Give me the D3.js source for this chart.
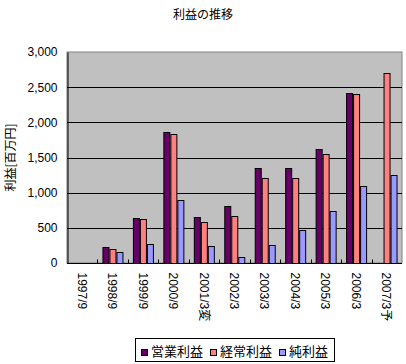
<!DOCTYPE html>
<html lang="ja">
<head>
  <meta charset="utf-8"/>
  <title>利益の推移</title>
  <script src="https://d3js.org/d3.v7.min.js"></script>
  <style>
    body { margin: 0; background: #fff; }
    text { font-family: "Liberation Sans", Arial, "Noto Sans CJK JP", sans-serif; fill: #000; }
    .jp { font-family: "Noto Sans CJK JP", sans-serif; }
  </style>
</head>
<body>
<svg id="chart" width="406" height="364"></svg>
<script>
  // data (百万円)
  const periods = ["1997/9", "1998/9", "1999/9", "2000/9", "2001/3変", "2002/3",
                   "2003/3", "2004/3", "2005/3", "2006/3", "2007/3予"];
  const seriesNames = ["営業利益", "経常利益", "純利益"];
  const operating = [0, 223, 635, 1858, 650, 806, 1346, 1346, 1621, 2417, 0];
  const ordinary  = [0, 195, 621, 1834, 579, 664, 1204, 1204, 1546, 2403, 2697];
  const net       = [0, 152, 266, 891, 237, 81, 252, 465, 735, 1095, 1247];
  const yTicks = [0, 500, 1000, 1500, 2000, 2500, 3000];
  const colors = ["#660066", "#FF8080", "#9999FF"];

  const svg = d3.select("#chart");
  const plotL = 67, plotR = 402, plotT = 52, plotB = 263;

  const x = d3.scaleBand().domain(periods).range([plotL, plotR]).paddingInner(0).paddingOuter(0);
  // excel gap width 150% -> half a bar each side
  const xs = d3.scaleBand().domain(seriesNames).range([0, x.bandwidth()]).paddingInner(0).paddingOuter(0.75);
  const y = d3.scaleLinear().domain([0, 3000]).range([plotB, plotT]);

  // title
  svg.append("text").attr("class", "jp")
    .attr("x", 203).attr("y", 19)
    .attr("text-anchor", "middle")
    .style("font-size", "12px")
    .text("利益の推移");

  // y axis label
  svg.append("text").attr("class", "jp")
    .attr("transform", "translate(15," + ((plotT + plotB) / 2) + ") rotate(-90)")
    .attr("text-anchor", "middle")
    .style("font-size", "12px")
    .text("利益[百万円]");

  // plot area
  svg.append("rect")
    .attr("x", plotL).attr("y", plotT)
    .attr("width", plotR - plotL).attr("height", plotB - plotT)
    .attr("fill", "#C0C0C0")
    .attr("stroke", "#808080");

  // gridlines
  svg.append("g").selectAll("line")
    .data(yTicks.filter(d => d > 0 && d < 3000))
    .enter().append("line")
    .attr("x1", plotL).attr("x2", plotR)
    .attr("y1", d => Math.round(y(d)) + 0.5).attr("y2", d => Math.round(y(d)) + 0.5)
    .attr("stroke", "#000");

  // bars
  const table = periods.map((p, i) => ({p: p, vals: [operating[i], ordinary[i], net[i]]}));
  const groups = svg.append("g").selectAll("g")
    .data(table)
    .enter().append("g")
    .attr("transform", d => "translate(" + x(d.p) + ",0)");

  groups.selectAll("rect")
    .data(d => d.vals.map((v, k) => ({name: seriesNames[k], v: v, k: k})).filter(e => e.v > 0))
    .enter().append("rect")
    .attr("x", d => Math.round(xs(d.name)) + 0.5)
    .attr("y", d => Math.round(y(d.v)) + 0.5)
    .attr("width", Math.round(xs.bandwidth()) - 1)
    .attr("height", d => Math.round(plotB - y(d.v)))
    .attr("fill", d => colors[d.k])
    .attr("stroke", "#000")
    .attr("stroke-width", 1);

  // y axis
  const yAxis = svg.append("g")
    .attr("transform", "translate(" + (plotL + 0.5) + ",0)")
    .call(d3.axisLeft(y).tickValues(yTicks).tickSize(0).tickPadding(10).tickFormat(d3.format(",")));
  yAxis.select(".domain").attr("stroke", "#000");
  yAxis.selectAll("text").style("font-size", "12px").style("font-family", "'Liberation Sans', Arial, sans-serif");

  // x axis
  const xAxis = svg.append("g")
    .attr("transform", "translate(0," + (plotB + 0.5) + ")");
  xAxis.append("line").attr("x1", plotL).attr("x2", plotR).attr("stroke", "#000");
  xAxis.selectAll("line.tk")
    .data(periods.slice(1))
    .enter().append("line").attr("class", "tk")
    .attr("x1", d => Math.round(x(d)) + 0.5).attr("x2", d => Math.round(x(d)) + 0.5)
    .attr("y1", -4).attr("y2", 0)
    .attr("stroke", "#000");
  xAxis.selectAll("text")
    .data(periods)
    .enter().append("text")
    .attr("transform", d => "translate(" + (x(d) + x.bandwidth() / 2 - 4.5) + ",9) rotate(90)")
    .style("font-size", "12px")
    .text(d => d);

  // legend
  const legend = svg.append("g");
  legend.append("rect")
    .attr("x", 135.5).attr("y", 338.5).attr("width", 199).attr("height", 23)
    .attr("fill", "#fff").attr("stroke", "#000");
  const legendX = [141, 210, 279];
  seriesNames.forEach((n, k) => {
    legend.append("rect")
      .attr("x", legendX[k] + 0.5).attr("y", 349.5).attr("width", 6).attr("height", 6)
      .attr("fill", colors[k]).attr("stroke", "#000");
    legend.append("text").attr("class", "jp")
      .attr("x", legendX[k] + 10).attr("y", 356)
      .style("font-size", "13px")
      .text(n);
  });
</script>
</body>
</html>
